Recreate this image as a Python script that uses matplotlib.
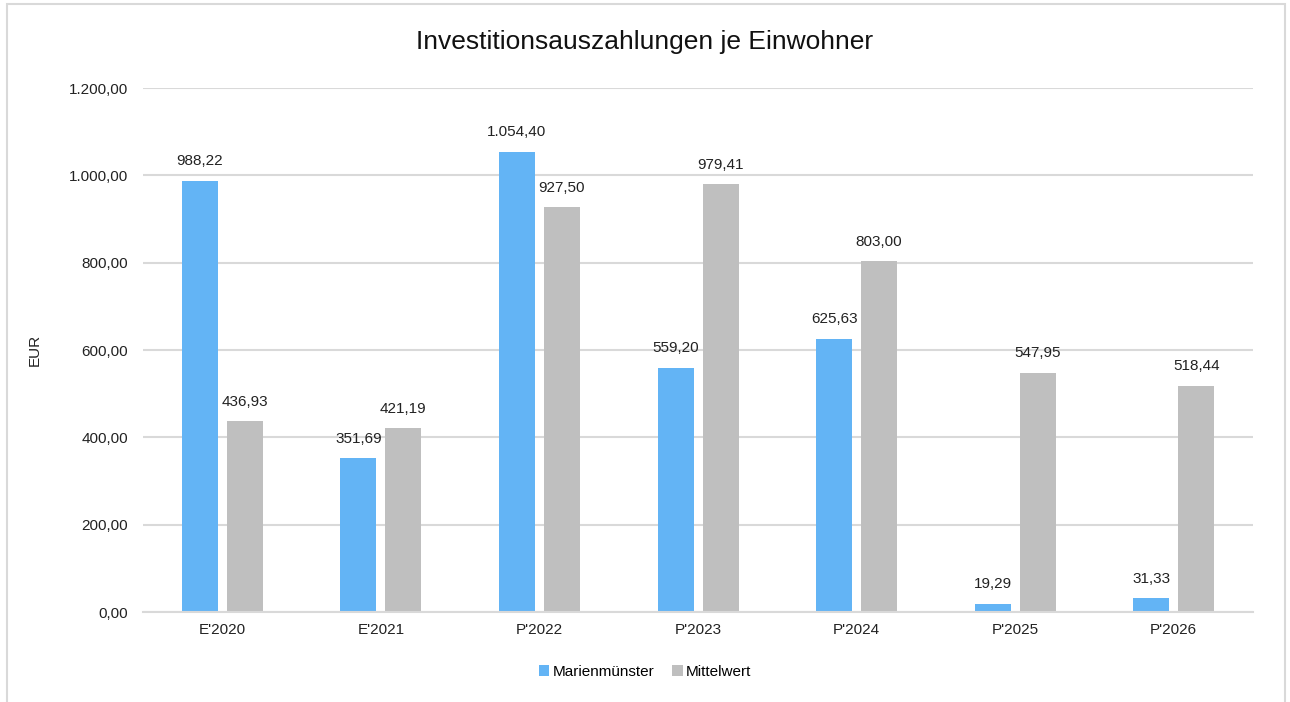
import numpy as np
from matplotlib import pyplot as plt
from matplotlib.patches import Rectangle
from matplotlib.ticker import FuncFormatter

plt.rcParams['font.family'] = ['Liberation Sans', 'DejaVu Sans']

jahre = ["E'2020", "E'2021", "P'2022", "P'2023", "P'2024", "P'2025", "P'2026"]
marienmuenster = [988.22, 351.69, 1054.40, 559.20, 625.63, 19.29, 31.33]
mittelwert = [436.93, 421.19, 927.50, 979.41, 803.00, 547.95, 518.44]


def de_format(v, pos=None):
    s = f"{v:,.2f}"
    return s.replace(",", "X").replace(".", ",").replace("X", ".")


fig = plt.figure(figsize=(12.9, 7.02), dpi=100)
ax = fig.add_axes([0.1109, 0.1282, 0.8604, 0.7464])

x = np.arange(len(jahre))
breite = 0.227
versatz = 0.142
b1 = ax.bar(x - versatz, marienmuenster, breite, color='#63b4f5', label='Marienmünster', zorder=2)
b2 = ax.bar(x + versatz, mittelwert, breite, color='#bfbfbf', label='Mittelwert', zorder=2)

for bars in (b1, b2):
    for rect in bars:
        h = rect.get_height()
        ax.annotate(de_format(h), (rect.get_x() + rect.get_width() / 2, h),
                    xytext=(0, 9), textcoords='offset points',
                    ha='center', va='bottom', fontsize=11, color='#222222')

ax.set_xlim(-0.5, len(jahre) - 0.5)
ax.set_ylim(0, 1200)
ax.set_yticks(np.arange(0, 1201, 200))
ax.yaxis.set_major_formatter(FuncFormatter(de_format))
ax.set_xticks(x)
ax.set_xticklabels(jahre)
ax.tick_params(axis='both', length=0, labelsize=11, colors='#222222')
ax.tick_params(axis='y', pad=11)
ax.tick_params(axis='x', pad=8)
ax.grid(axis='y', color='#d9d9d9', linewidth=1.5, zorder=0)
for side in ('top', 'right', 'left'):
    ax.spines[side].set_visible(False)
ax.spines['bottom'].set_color('#d9d9d9')
ax.spines['bottom'].set_linewidth(1.5)

fig.text(35 / 1290, 1 - 350 / 702, 'EUR', rotation=90, ha='center', va='center',
         fontsize=11, color='#222222')
fig.text(0.5, 0.94, 'Investitionsauszahlungen je Einwohner', ha='center', va='center',
         fontsize=19, color='#111111')

fig.legend(loc='center', bbox_to_anchor=(0.5, 0.043), ncol=2, frameon=False,
           fontsize=11, handlelength=0.7, handleheight=0.7, handletextpad=0.2,
           columnspacing=1.2)

# Rahmen um das Diagramm
fig.patches.append(Rectangle((7 / 1290, -0.05), 1278 / 1290, 1.05 - 4 / 702,
                             transform=fig.transFigure, fill=False,
                             edgecolor='#d9d9d9', linewidth=1.5))

fig.savefig('out.png', dpi=100)
